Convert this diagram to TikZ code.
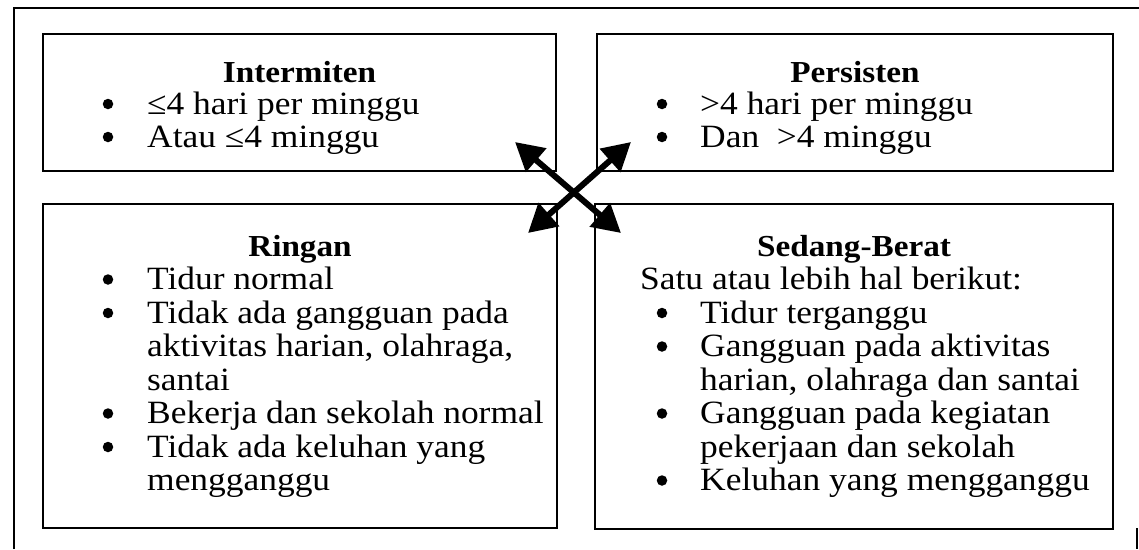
\documentclass[tikz,border=0pt]{standalone}
\usepackage{fontspec}
\setmainfont{Liberation Serif}[FakeStretch=1.09]
\usetikzlibrary{arrows.meta}
\begin{document}
\begin{tikzpicture}[x=1pt,y=-1pt,
  box/.style={draw, line width=1.6pt, rectangle, inner sep=0pt},
  ttl/.style={anchor=base, font=\fontsize{30.5}{36}\selectfont\bfseries, inner sep=0pt},
  txt/.style={anchor=base west, font=\fontsize{32.5}{36}\selectfont, inner sep=0pt},
  bul/.style={circle, fill, inner sep=0pt, minimum size=10.5pt},
  dblarrow/.style={line width=6pt, {Triangle[length=28pt,width=30pt]}-{Triangle[length=28pt,width=30pt]}},
  frameline/.style={line width=1.2pt}]
\useasboundingbox (0,0) rectangle (1139,549);
% outer frame
\coordinate (fbl) at (14,549);
\coordinate (ftl) at (14,8);
\coordinate (ftr) at (1139,8);
\coordinate (frt) at (1137,528);
\coordinate (frb) at (1137,549);
\draw[frameline] (fbl) -- (ftl) -- (ftr);
\draw[frameline] (frt) -- (frb);
% boxes
\node[box, minimum width=513pt, minimum height=137pt] (tl) at (299.5,102.5) {};
\node[box, minimum width=516pt, minimum height=137pt] (tr) at (855,102.5) {};
\node[box, minimum width=514pt, minimum height=324pt] (bl) at (300,366) {};
\node[box, minimum width=518pt, minimum height=325pt] (br) at (854,366.5) {};
% top-left
\node[ttl] (tlt) at (299.5,82) {Intermiten};
\node[bul] (tlb1) at (108,104) {};
\node[txt] (tl1) at (147,114) {≤4 hari per minggu};
\node[bul] (tlb2) at (108,137) {};
\node[txt] (tl2) at (147,147) {Atau ≤4 minggu};
% top-right
\node[ttl] (trt) at (855,82) {Persisten};
\node[bul] (trb1) at (662,104) {};
\node[txt] (tr1) at (700,114) {>4 hari per minggu};
\node[bul] (trb2) at (662,137) {};
\node[txt] (tr2) at (700,147) {Dan\ \ >4 minggu};
% bottom-left
\node[ttl] (blt) at (300,256) {Ringan};
\node[bul] (blb1) at (108,279.5) {};
\node[txt] (bl1) at (147,289.5) {Tidur normal};
\node[bul] (blb2) at (108,313) {};
\node[txt] (bl2) at (147,323) {Tidak ada gangguan pada};
\node[txt] (bl3) at (147,356.5) {aktivitas harian, olahraga,};
\node[txt] (bl4) at (147,390) {santai};
\node[bul] (blb3) at (108,413.5) {};
\node[txt] (bl5) at (147,423.5) {Bekerja dan sekolah normal};
\node[bul] (blb4) at (108,447) {};
\node[txt] (bl6) at (147,457) {Tidak ada keluhan yang};
\node[txt] (bl7) at (147,490.5) {mengganggu};
% bottom-right
\node[ttl] (brt) at (854,256) {Sedang-Berat};
\node[txt] (brs) at (640,289.5) {Satu atau lebih hal berikut:};
\node[bul] (brb1) at (662,313) {};
\node[txt] (br1) at (700,323) {Tidur terganggu};
\node[bul] (brb2) at (662,346.5) {};
\node[txt] (br2) at (700,356.5) {Gangguan pada aktivitas};
\node[txt] (br3) at (700,390) {harian, olahraga dan santai};
\node[bul] (brb3) at (662,413.5) {};
\node[txt] (br4) at (700,423.5) {Gangguan pada kegiatan};
\node[txt] (br5) at (700,457) {pekerjaan dan sekolah};
\node[bul] (brb4) at (662,480.5) {};
\node[txt] (br6) at (700,490.5) {Keluhan yang mengganggu};
% arrows
\coordinate (aul) at (515,142);
\coordinate (alr) at (621,233);
\coordinate (aur) at (631,142);
\coordinate (all) at (528,233);
\draw[dblarrow] (aul) -- (alr);
\draw[dblarrow] (aur) -- (all);
\end{tikzpicture}
\end{document}
